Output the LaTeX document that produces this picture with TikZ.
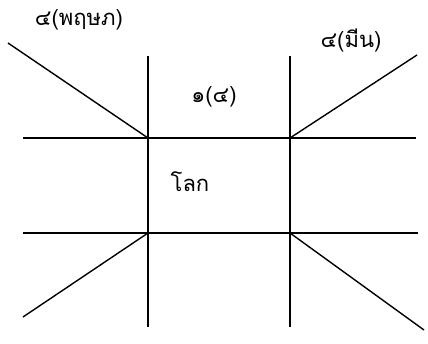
\documentclass[tikz,border=0pt]{standalone}
\usepackage{fontspec}
\newfontfamily\thaifont[Script=Thai]{Loma}
\begin{document}
\begin{tikzpicture}[x=1pt,y=-1pt,
  ln/.style={line width=1.4pt,black},
  lbl/.style={font=\thaifont\fontsize{22}{26}\selectfont,inner sep=0pt}]
\useasboundingbox (0,0) rectangle (428,344);
% intersections
\coordinate (A) at (148,138);
\coordinate (B) at (290,138);
\coordinate (C) at (148,233);
\coordinate (D) at (290,233);
% ends
\coordinate (v1t) at (148,56);
\coordinate (v1b) at (148,327);
\coordinate (v2t) at (290,56);
\coordinate (v2b) at (290,327);
\coordinate (h1l) at (23,138);
\coordinate (h1r) at (416,138);
\coordinate (h2l) at (23,233);
\coordinate (h2r) at (418,233);
\coordinate (dTL) at (8,43);
\coordinate (dTR) at (417,55);
\coordinate (dBL) at (23,317);
\coordinate (dBR) at (424,330);
\draw[ln] (v1t) -- (v1b);
\draw[ln] (v2t) -- (v2b);
\draw[ln] (h1l) -- (h1r);
\draw[ln] (h2l) -- (h2r);
\draw[ln] (dTL) -- (A);
\draw[ln] (B) -- (dTR);
\draw[ln] (C) -- (dBL);
\draw[ln] (D) -- (dBR);
\node[lbl] (t1) at (79,20) {๔(พฤษภ)};
\node[lbl] (t2) at (351,41) {๔(มีน)};
\node[lbl] (t3) at (214,97) {๑(๔)};
\node[lbl] (t4) at (190,182) {โลก};
\end{tikzpicture}
\end{document}
